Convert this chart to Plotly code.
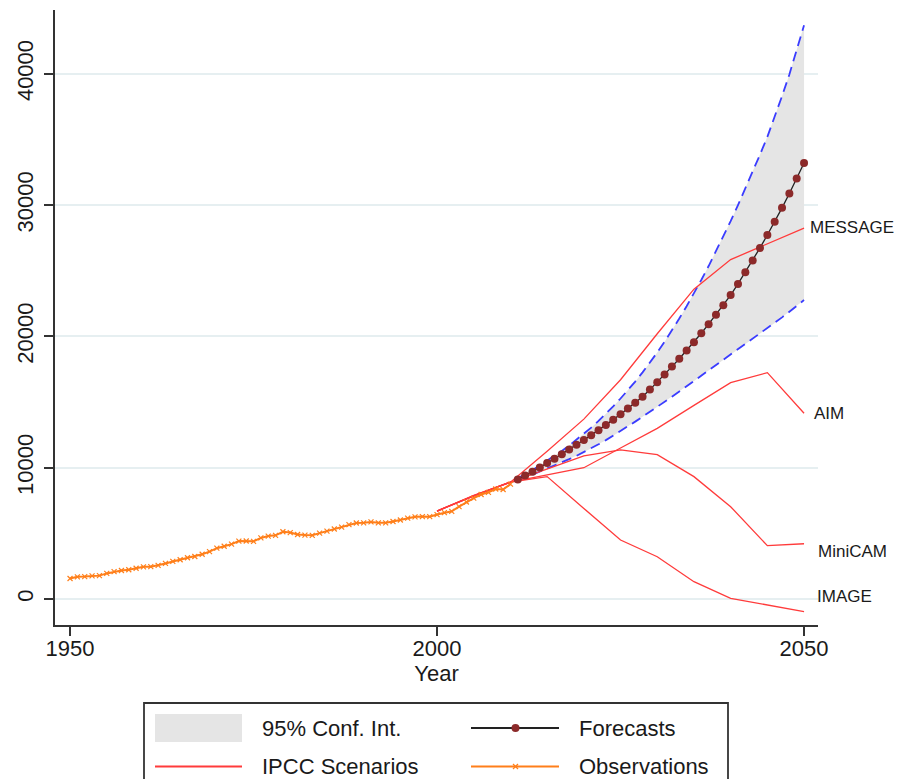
import plotly.graph_objects as go

# Observed emissions, 1950-2010
obs_years = list(range(1950, 2011))
obs_values = [
    1560, 1690, 1710, 1760, 1780, 1950, 2080, 2170, 2230, 2340,
    2450, 2460, 2560, 2710, 2860, 2990, 3140, 3240, 3410, 3610,
    3870, 4020, 4180, 4410, 4420, 4390, 4650, 4790, 4850, 5120,
    5060, 4910, 4870, 4850, 5020, 5170, 5330, 5470, 5670, 5790,
    5800, 5870, 5800, 5800, 5900, 6020, 6160, 6260, 6280, 6270,
    6430, 6580, 6680, 7040, 7390, 7680, 7960, 8120, 8380, 8340,
    8750,
]

# Point forecasts and 95% interval, 2011-2050
fc_years = list(range(2011, 2051))
fc_values = [
    9100, 9400, 9700, 10020, 10350, 10690, 11030, 11380, 11740, 12110,
    12480, 12860, 13250, 13660, 14080, 14510, 14950, 15410, 15950, 16510,
    17090, 17700, 18300, 18920, 19560, 20240, 20930, 21640, 22380, 23150,
    24000, 24880, 25790, 26740, 27720, 28730, 29790, 30890, 32030, 33200,
]
ci_upper = [
    9200, 9500, 9830, 10170, 10520, 10890, 11280, 11690, 12120, 12570,
    13050, 13560, 14100, 14670, 15270, 15900, 16560, 17260, 18000, 18780,
    19600, 20460, 21360, 22300, 23280, 24300, 25360, 26460, 27600, 28780,
    30000, 31250, 32550, 33850, 35200, 36700, 38300, 39950, 41800, 43700,
]
ci_lower = [
    9000, 9230, 9460, 9700, 9930, 10160, 10400, 10650, 10910, 11180,
    11470, 11780, 12100, 12440, 12790, 13150, 13510, 13880, 14250, 14620,
    15000, 15400, 15800, 16200, 16600, 17000, 17400, 17800, 18200, 18600,
    19000, 19400, 19800, 20210, 20620, 21030, 21450, 21880, 22320, 22770,
]

# IPCC scenario paths
scen_years = [2000, 2005, 2010, 2015, 2020, 2025, 2030, 2035, 2040, 2045, 2050]
scenarios = {
    "MESSAGE": [6700, 7900, 8900, 11250, 13700, 16700, 20200, 23600, 25850, 27050, 28250],
    "AIM": [6700, 7850, 8900, 9450, 10000, 11500, 13000, 14750, 16480, 17240, 14150],
    "MiniCAM": [6700, 7850, 8900, 9900, 10900, 11350, 11000, 9320, 7030, 4060, 4210],
    "IMAGE": [6700, 7850, 8900, 9320, 6900, 4490, 3220, 1320, 50, -460, -960],
}
# label placement at the right end of each scenario
scen_label_y = {"MESSAGE": 28300, "AIM": 14150, "MiniCAM": 3600, "IMAGE": 180}
scen_label_shift = {"MESSAGE": 4, "AIM": 8, "MiniCAM": 12, "IMAGE": 11}

y_ticks = [0, 10000, 20000, 30000, 40000]
x_ticks = [1950, 2000, 2050]

FONT = "Liberation Sans, Arial, sans-serif"
TXT = "#1a1a1a"
RED = "#ff3b3b"
ORANGE = "#ff7f1a"
BLUE = "#3a3cff"
MAROON = "#8c2a2a"
GREY_FILL = "#e5e5e5"

fig = go.Figure()

# shaded confidence band
fig.add_trace(go.Scatter(
    x=fc_years + fc_years[::-1],
    y=ci_upper + ci_lower[::-1],
    fill="toself", fillcolor=GREY_FILL, line=dict(width=0),
    mode="lines", hoverinfo="skip", showlegend=False,
))
for band in (ci_upper, ci_lower):
    fig.add_trace(go.Scatter(
        x=fc_years, y=band, mode="lines",
        line=dict(color=BLUE, width=1.8, dash="10px,6px"),
        showlegend=False,
    ))

for name, vals in scenarios.items():
    fig.add_trace(go.Scatter(
        x=scen_years, y=vals, mode="lines",
        line=dict(color=RED, width=1.3), name=name, showlegend=False,
    ))

fig.add_trace(go.Scatter(
    x=obs_years, y=obs_values, mode="lines+markers",
    line=dict(color=ORANGE, width=2),
    marker=dict(symbol="x-thin", size=5, line=dict(color=ORANGE, width=1.2)),
    showlegend=False,
))

fig.add_trace(go.Scatter(
    x=fc_years, y=fc_values, mode="lines+markers",
    line=dict(color="#222222", width=1.3),
    marker=dict(symbol="circle", size=8, color=MAROON),
    showlegend=False,
))

for name in scenarios:
    fig.add_annotation(
        x=2050, y=scen_label_y[name], text=name, showarrow=False,
        xanchor="left", yanchor="middle", xshift=scen_label_shift[name],
        font=dict(family=FONT, size=17, color=TXT),
    )

# legend box drawn below the plot, positions in paper units
L = 55.0
R = 818.0
T = 10.0
B = 625.0
W = R - L
H = B - T


def px(x):
    return (x - L) / W


def py(y):
    return (B - y) / H


shapes = [
    dict(type="rect", xref="paper", yref="paper",
         x0=px(144), x1=px(728), y0=py(703), y1=py(784),
         line=dict(color="#333333", width=1.8), fillcolor="white", layer="below"),
    dict(type="rect", xref="paper", yref="paper",
         x0=px(155), x1=px(242), y0=py(714), y1=py(742),
         line=dict(width=0), fillcolor=GREY_FILL),
    dict(type="line", xref="paper", yref="paper",
         x0=px(155), x1=px(242), y0=py(766.5), y1=py(766.5),
         line=dict(color=RED, width=2)),
    dict(type="line", xref="paper", yref="paper",
         x0=px(471), x1=px(559), y0=py(728), y1=py(728),
         line=dict(color="#222222", width=2)),
    dict(type="circle", xref="paper", yref="paper",
         xsizemode="pixel", ysizemode="pixel",
         xanchor=px(515.5), yanchor=py(728),
         x0=-4, x1=4, y0=-4, y1=4,
         line=dict(width=0), fillcolor=MAROON),
    dict(type="line", xref="paper", yref="paper",
         x0=px(471), x1=px(559), y0=py(766.5), y1=py(766.5),
         line=dict(color=ORANGE, width=2)),
    dict(type="line", xref="paper", yref="paper",
         xsizemode="pixel", ysizemode="pixel",
         xanchor=px(515.5), yanchor=py(766.5),
         x0=-2.5, x1=2.5, y0=-2.5, y1=2.5,
         line=dict(color=ORANGE, width=1.2)),
    dict(type="line", xref="paper", yref="paper",
         xsizemode="pixel", ysizemode="pixel",
         xanchor=px(515.5), yanchor=py(766.5),
         x0=-2.5, x1=2.5, y0=2.5, y1=-2.5,
         line=dict(color=ORANGE, width=1.2)),
]

legend_texts = [
    ("95% Conf. Int.", 260, 728),
    ("IPCC Scenarios", 260, 766.5),
    ("Forecasts", 577, 728),
    ("Observations", 577, 766.5),
]
for text, lx, ly in legend_texts:
    fig.add_annotation(
        xref="paper", yref="paper", x=px(lx), y=py(ly), text=text,
        showarrow=False, xanchor="left", yanchor="middle",
        font=dict(family=FONT, size=22, color=TXT),
    )

fig.update_layout(
    width=914, height=779,
    margin=dict(l=55, r=96, t=10, b=154),
    paper_bgcolor="white", plot_bgcolor="white",
    shapes=shapes,
    showlegend=False,
    font=dict(family=FONT, size=22, color=TXT),
)

fig.update_xaxes(
    range=[1947.95, 2051.9],
    tickvals=x_ticks, ticktext=[str(v) for v in x_ticks],
    ticks="outside", ticklen=9, tickwidth=2, tickcolor="#333333",
    ticklabelstandoff=-6,
    showline=True, linecolor="#333333", linewidth=2,
    showgrid=False, zeroline=False,
    tickfont=dict(family=FONT, size=22, color=TXT),
    title=dict(text="Year", font=dict(family=FONT, size=22, color=TXT), standoff=0),
)
fig.update_yaxes(
    range=[-1980, 44860],
    tickvals=y_ticks, ticktext=[str(v) for v in y_ticks],
    tickangle=-90,
    ticks="outside", ticklen=9, tickwidth=2, tickcolor="#333333",
    ticklabelstandoff=2,
    showline=True, linecolor="#333333", linewidth=2,
    showgrid=True, gridcolor="#e6eff1", gridwidth=1.5,
    zeroline=False,
    tickfont=dict(family=FONT, size=22, color=TXT),
)

fig.write_html("out.html")
